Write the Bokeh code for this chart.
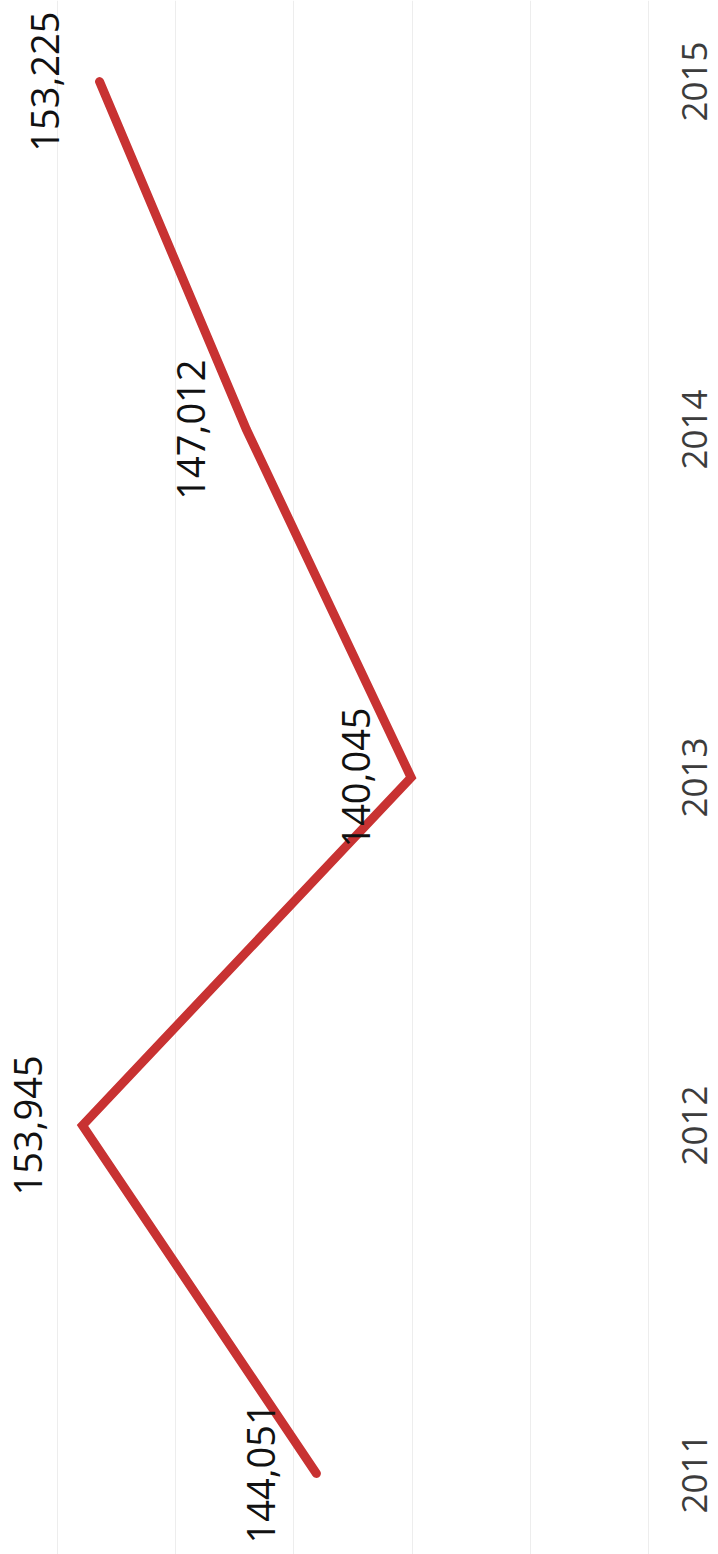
import math
from bokeh.plotting import figure
from bokeh.models import Range1d, Grid, SingleIntervalTicker
from bokeh.embed import file_html
from bokeh.resources import INLINE
from bokeh.core.properties import value

years = [2011, 2012, 2013, 2014, 2015]
values = [144051, 153945, 140045, 147012, 153225]
value_labels = ["144,051", "153,945", "140,045", "147,012", "153,225"]
year_labels = ["2011", "2012", "2013", "2014", "2015"]

x_start, x_end = 157414, 127042
p = figure(width=718, height=1554, output_backend="svg", toolbar_location=None,
           x_range=Range1d(x_start, x_end), y_range=Range1d(2010.767, 2015.233),
           x_axis_location=None, y_axis_location=None, min_border=0,
           background_fill_color="white", border_fill_color="white")
p.outline_line_color = None
p.xgrid.visible = False
p.ygrid.visible = False

grid = Grid(dimension=0, ticker=SingleIntervalTicker(interval=5000),
            grid_line_color="#ededed", grid_line_width=1)
p.add_layout(grid, "center")

p.line(values, years, line_color="#C83232", line_width=9, line_cap="round", line_join="miter")

p.text(x=values, y=years, text=value_labels, angle=math.pi / 2,
       text_align="center", text_baseline="middle", x_offset=-55,
       text_font=value("Open Sans"), text_font_size="38px", text_color="#111111")

# category (year) labels placed at the right edge of the value scale
p.text(x=[x_end] * len(years), y=years, text=year_labels, angle=math.pi / 2,
       text_align="center", text_baseline="middle", x_offset=-24,
       text_font=value("Open Sans"), text_font_size="35px", text_color="#3c3c3c")

open("out.html", "w").write(file_html(p, INLINE))
